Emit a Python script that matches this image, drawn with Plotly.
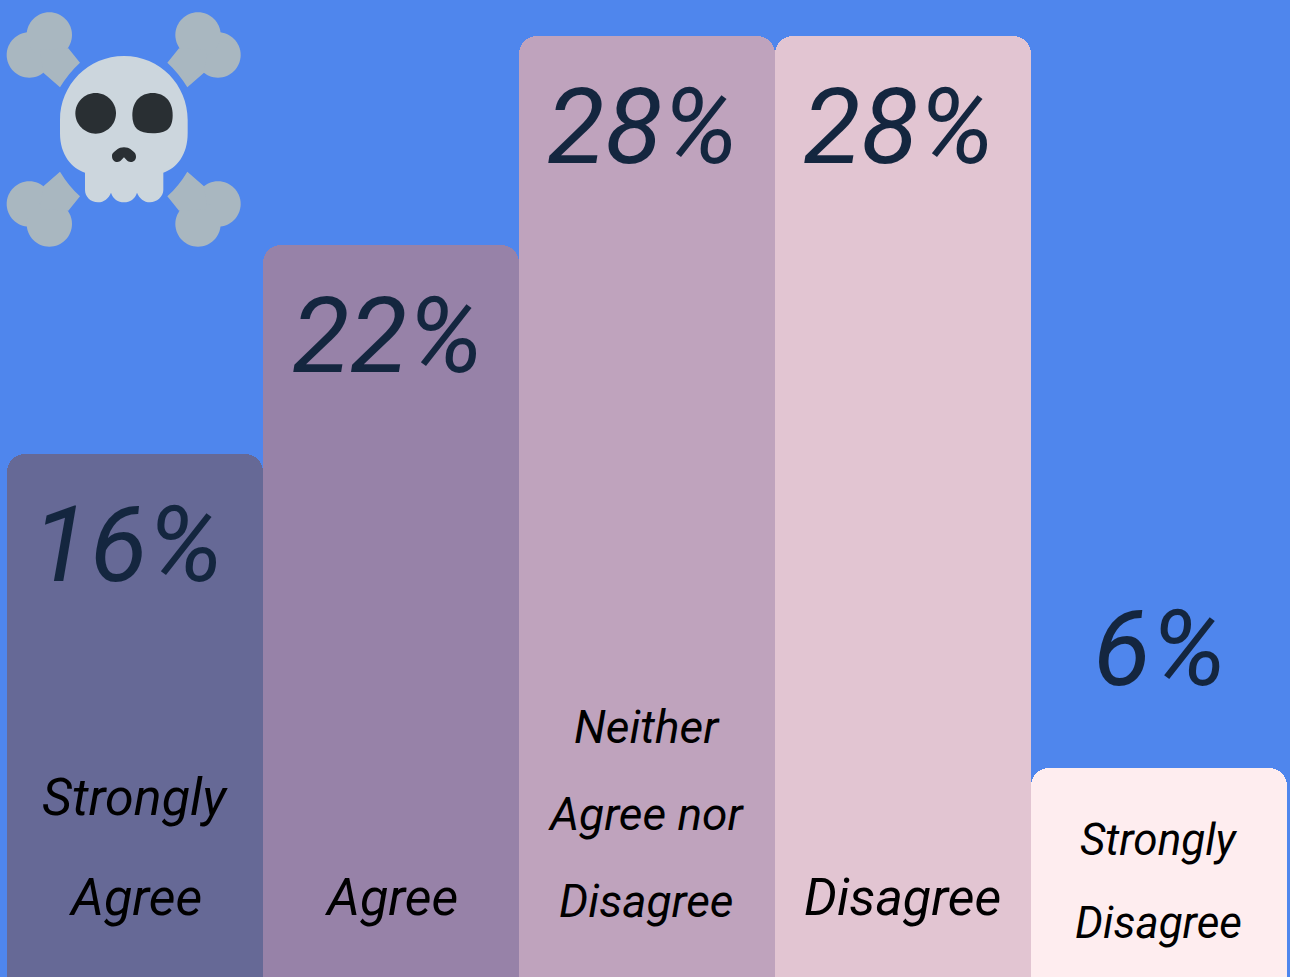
import re
import plotly.graph_objects as go

categories = ["Strongly Agree", "Agree", "Neither Agree nor Disagree", "Disagree", "Strongly Disagree"]
label_lines = [["Strongly", "Agree"], ["Agree"], ["Neither", "Agree nor", "Disagree"], ["Disagree"], ["Strongly", "Disagree"]]
bar_heights = [16, 22, 28, 28, 7]
percent_labels = ["16%", "22%", "28%", "28%", "6%"]
bar_colors = ["#666996", "#9782a8", "#bfa3bd", "#e2c5d2", "#feedef"]

# text styling, per bar
label_sizes = [52, 52, 46, 52, 44]
label_steps = [100, 0, 87, 0, 83]
label_baselines = [915, 915, 917, 915, 938]
percent_xshift = [-7, -3, -4, -4, 1]

BG = "#4f86ed"
W, H = 1290, 977
FONT = "Roboto"


def icon(path):
    """Convert a path drawn on a 3x icon grid to paper coordinates."""
    tokens = re.findall(r"[A-Za-z]|-?\d+\.?\d*", path)
    out, is_x = [], True
    for t in tokens:
        if t.isalpha():
            out.append(t)
            is_x = True
        else:
            v = float(t) / 3
            out.append(f"{v / W:.5f}" if is_x else f"{1 - v / H:.5f}")
            is_x = not is_x
    return " ".join(out)


def circle(cx, cy, r):
    return (f"M {cx - r} {cy} C {cx - r} {cy - .55 * r} {cx - .55 * r} {cy - r} {cx} {cy - r} "
            f"C {cx + .55 * r} {cy - r} {cx + r} {cy - .55 * r} {cx + r} {cy} "
            f"C {cx + r} {cy + .55 * r} {cx + .55 * r} {cy + r} {cx} {cy + r} "
            f"C {cx - .55 * r} {cy + r} {cx - r} {cy + .55 * r} {cx - r} {cy} Z")


BONE, SKULL, DARK = "#a9b7c0", "#ccd6dd", "#292f33"
decor = []
for mx in (False, True):
    for my in (False, True):
        fx = (lambda x: 742 - x) if mx else (lambda x: x)
        fy = (lambda y: 777 - y) if my else (lambda y: y)
        decor.append((circle(fx(88), fy(165), 68), BONE))
        decor.append((circle(fx(148), fy(105), 68), BONE))
        decor.append((f"M {fx(205)} {fy(145)} L {fx(240)} {fy(188)} Q {fx(205)} {fy(220)} {fx(180)} {fy(262)} "
                      f"L {fx(130)} {fy(218)} L {fx(120)} {fy(150)} Z", BONE))
decor.append(("M 372 168 C 480 168 563 255 563 360 L 563 400 C 563 465 530 505 490 518 L 490 570 "
              "C 490 590 470 607 450 607 C 432 607 418 595 411 578 C 405 597 390 607 372 607 "
              "C 354 607 339 597 333 578 C 326 595 312 607 294 607 C 272 607 255 590 255 570 "
              "L 255 518 C 215 505 180 465 180 400 L 180 360 C 180 255 264 168 372 168 Z", SKULL))
decor.append((circle(287, 340, 61), DARK))
decor.append(("M 458 279 C 495 279 518 305 518 345 C 518 385 500 400 458 400 "
              "C 416 400 397 385 397 345 C 397 305 421 279 458 279 Z", DARK))
decor.append(("M 336 468 C 336 458 345 455 352 448 C 360 440 384 440 392 448 C 399 455 408 458 408 470 "
              "C 408 480 400 486 392 486 C 382 486 378 478 372 472 C 366 478 362 486 352 486 "
              "C 344 486 336 480 336 468 Z", DARK))
shapes = [dict(type="path", xref="paper", yref="paper", path=icon(p), fillcolor=c, line_width=0, layer="above")
          for p, c in decor]

fig = go.Figure(go.Bar(x=list(range(len(categories))), y=bar_heights, marker=dict(color=bar_colors, line_width=0),
                       customdata=categories, hovertemplate="%{customdata}: %{text}<extra></extra>",
                       text=percent_labels, textposition="none"))

annotations = []
for i, (v, pct, lines) in enumerate(zip(bar_heights, percent_labels, label_lines)):
    above = v < 10
    annotations.append(dict(x=i, y=v, xref="x", yref="y", text=pct, showarrow=False, xshift=percent_xshift[i],
                            font=dict(family=FONT, size=106, color="#14263f", weight=400, style="italic"),
                            yanchor="middle", yshift=119 if above else -91))
    size = label_sizes[i]
    for k, line in enumerate(reversed(lines)):
        annotations.append(dict(x=i, y=1, xref="x", yref="y", text=line, showarrow=False,
                                font=dict(family=FONT, size=size, color="#000000", weight=400, style="italic"),
                                yanchor="middle",
                                yshift=H - (label_baselines[i] - 0.33 * size) + k * label_steps[i]))

fig.update_layout(
    width=W, height=H, margin=dict(l=0, r=0, t=0, b=0), paper_bgcolor=BG, plot_bgcolor=BG,
    bargap=0, barcornerradius=18, showlegend=False, shapes=shapes, annotations=annotations,
    xaxis=dict(visible=False, range=[-0.527, 4.512]),
    yaxis=dict(visible=False, range=[0.99, 29.03]),
)
fig.write_html("out.html", config=dict(displayModeBar=False),
               post_script="document.body.style.margin='0';document.documentElement.style.overflow='hidden';")
